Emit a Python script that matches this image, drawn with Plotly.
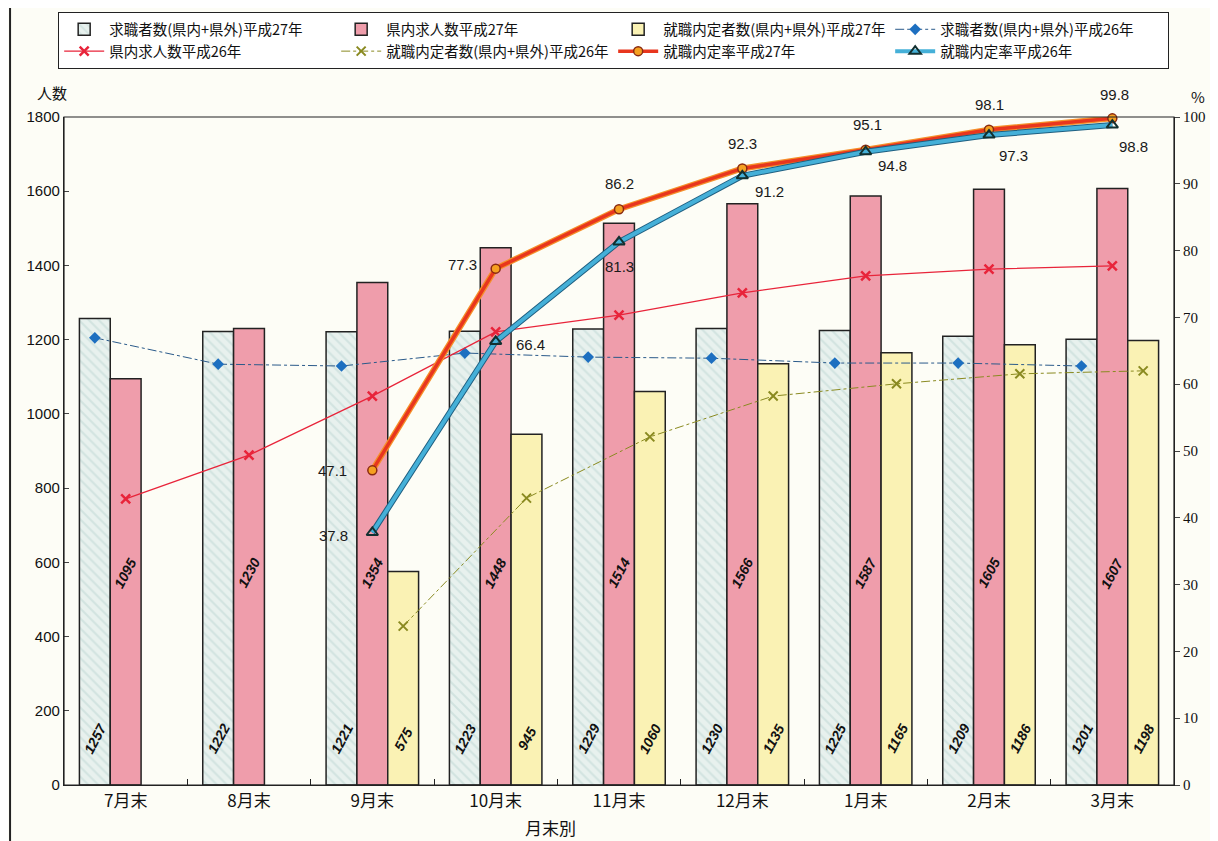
import plotly.graph_objects as go

months = ["7月末", "8月末", "9月末", "10月末", "11月末", "12月末", "1月末", "2月末", "3月末"]

seekers_h27 = [1257, 1222, 1221, 1223, 1229, 1230, 1225, 1209, 1201]
openings_h27 = [1095, 1230, 1354, 1448, 1514, 1566, 1587, 1605, 1607]
placed_h27 = [None, None, 575, 945, 1060, 1135, 1165, 1186, 1198]

seekers_h26 = [1205, 1134, 1129, 1164, 1153, 1150, 1137, 1137, 1129]
openings_h26 = [771, 889, 1048, 1221, 1266, 1326, 1372, 1390, 1399]
placed_h26 = [None, None, 428, 773, 938, 1048, 1081, 1108, 1116]

rate_h27 = [None, None, 47.1, 77.3, 86.2, 92.3, 95.1, 98.1, 99.8]
rate_h26 = [None, None, 37.8, 66.4, 81.3, 91.2, 94.8, 97.3, 98.8]

# label offsets (px) for rate value labels
shift_h27 = [None, None, (-40, 0), (-33, 4), (0, 26), (0, 25), (2, 25), (0, 25), (2, 24)]
shift_h26 = [None, None, (-39, -3), (35, -3), (0, -25), (27, -16), (27, -14), (24, -20), (21, -21)]

FONT = "Noto Sans CJK JP"
idx = list(range(len(months)))
off = 0.25

fig = go.Figure()

fig.add_trace(go.Bar(
    x=[i - off for i in idx], y=seekers_h27, width=0.25,
    name="求職者数(県内+県外)平成27年",
    marker=dict(color="#e4eeea", line=dict(color="#222222", width=1.5),
                pattern=dict(shape="\\", fgcolor="#bcd6d2", bgcolor="#e8f1ee", size=7, solidity=0.3)),
))
fig.add_trace(go.Bar(
    x=idx, y=openings_h27, width=0.25,
    name="県内求人数平成27年",
    marker=dict(color="#ef9dab", line=dict(color="#222222", width=1.5)),
))
fig.add_trace(go.Bar(
    x=[i + off for i in idx], y=placed_h27, width=0.25,
    name="就職内定者数(県内+県外)平成27年",
    marker=dict(color="#faf2b4", line=dict(color="#222222", width=1.5)),
))

fig.add_trace(go.Scatter(
    x=[i - off for i in idx], y=seekers_h26, mode="lines+markers",
    name="求職者数(県内+県外)平成26年",
    line=dict(color="#2a5a8a", width=1, dash="dashdot"),
    marker=dict(symbol="diamond", size=9, color="#1d6fc0"),
))
fig.add_trace(go.Scatter(
    x=idx, y=openings_h26, mode="lines+markers",
    name="県内求人数平成26年",
    line=dict(color="#e8243a", width=1.3),
    marker=dict(symbol="x-thin", size=9, line=dict(color="#e8243a", width=2.5)),
))
fig.add_trace(go.Scatter(
    x=[i + off for i in idx], y=placed_h26, mode="lines+markers",
    name="就職内定者数(県内+県外)平成26年",
    line=dict(color="#8a8a20", width=1, dash="dashdot"),
    marker=dict(symbol="x-thin", size=9, line=dict(color="#8a8a20", width=2)),
))

fig.add_trace(go.Scatter(
    x=idx, y=rate_h27, mode="lines", yaxis="y2", showlegend=False, cliponaxis=False,
    line=dict(color="#f5902a", width=6), hoverinfo="skip",
))
fig.add_trace(go.Scatter(
    x=idx, y=rate_h27, mode="lines+markers", yaxis="y2", cliponaxis=False,
    name="就職内定率平成27年",
    line=dict(color="#e8361e", width=3.5),
    marker=dict(symbol="circle", size=9, color="#f5a020", line=dict(color="#8a2a10", width=1.5)),
))
fig.add_trace(go.Scatter(
    x=idx, y=rate_h26, mode="lines", yaxis="y2", showlegend=False, cliponaxis=False,
    line=dict(color="#1f5f80", width=6), hoverinfo="skip",
))
fig.add_trace(go.Scatter(
    x=idx, y=rate_h26, mode="lines+markers", yaxis="y2", cliponaxis=False,
    name="就職内定率平成26年",
    line=dict(color="#45b0d8", width=4),
    marker=dict(symbol="triangle-up-open", size=10, color="#123030", line=dict(width=2)),
))

ann = []
lblfont = dict(family="Liberation Sans", size=15, color="#1a1a1a")
for i in idx:
    for vals, shifts in ((rate_h27, shift_h27), (rate_h26, shift_h26)):
        if vals[i] is not None:
            ann.append(dict(x=i, y=vals[i], yref="y2", text=f"{vals[i]}", showarrow=False,
                            xshift=shifts[i][0], yshift=shifts[i][1], font=lblfont))

barfont = dict(family="Liberation Sans", size=14, color="#111111")
for i in idx:
    ann.append(dict(x=i - off, y=125, text=f"<b><i>{seekers_h27[i]}</i></b>", showarrow=False,
                    textangle=-62, font=barfont))
    ann.append(dict(x=i, y=570, text=f"<b><i>{openings_h27[i]}</i></b>", showarrow=False,
                    textangle=-62, font=barfont))
    if placed_h27[i] is not None:
        ann.append(dict(x=i + off, y=125, text=f"<b><i>{placed_h27[i]}</i></b>", showarrow=False,
                        textangle=-62, font=barfont))

ann.append(dict(xref="paper", yref="paper", x=-0.011, y=1.036, xanchor="center", yanchor="middle",
                text="人数", showarrow=False, font=dict(family=FONT, size=15, color="#111111")))
ann.append(dict(xref="paper", yref="paper", x=1.0216, y=1.03, xanchor="center", yanchor="middle",
                text="%", showarrow=False, font=dict(family=FONT, size=15, color="#111111")))
ann.append(dict(xref="paper", yref="paper", x=0.438, y=-0.064, xanchor="center", yanchor="middle",
                text="月末別", showarrow=False, font=dict(family=FONT, size=17, color="#111111")))

fig.update_layout(
    width=1210, height=833,
    margin=dict(l=56, r=42, t=109, b=56),
    paper_bgcolor="#fdfdf6",
    plot_bgcolor="#fdfdf6",
    barmode="overlay",
    font=dict(family=FONT, color="#111111"),
    legend=dict(orientation="h", x=0.0413, y=0.995, xref="container", yref="container",
                xanchor="left", yanchor="top",
                bgcolor="#ffffff", bordercolor="#222222", borderwidth=1.2,
                entrywidth=222, entrywidthmode="pixels", traceorder="normal",
                font=dict(family=FONT, size=14.5, color="#111111"),
                itemwidth=40),
    xaxis=dict(range=[-0.5, 8.5], tickmode="array", tickvals=idx, ticktext=months,
               ticks="", showgrid=False, zeroline=False, showline=True, linecolor="#222222", linewidth=1.2,
               tickfont=dict(family=FONT, size=17, color="#111111"),
               minor=dict(tickmode="array", tickvals=[i + 0.5 for i in idx[:-1]], ticks="inside",
                          ticklen=6, tickcolor="#222222", showgrid=False)),
    yaxis=dict(range=[0, 1800], dtick=200, showgrid=False, zeroline=False, showline=True,
               linecolor="#222222", linewidth=1.2, ticks="inside", ticklen=5,
               tickfont=dict(family="Liberation Sans", size=15, color="#111111")),
    yaxis2=dict(range=[0, 100], dtick=10, overlaying="y", side="right", showgrid=False,
                zeroline=False, showline=True, linecolor="#222222", linewidth=1.2,
                ticks="outside", ticklen=5,
                tickfont=dict(family="Liberation Serif", size=15, color="#111111")),
    annotations=ann,
    shapes=[
        dict(type="rect", xref="paper", yref="paper", x0=0, x1=1, y0=0, y1=1,
             line=dict(color="#222222", width=1.2), fillcolor="rgba(0,0,0,0)", layer="above"),
        dict(type="line", xref="paper", yref="paper", x0=-0.0486, x1=-0.0486, y0=-0.084, y1=1.163,
             line=dict(color="#222222", width=2)),
    ],
)

fig.write_html("out.html")
